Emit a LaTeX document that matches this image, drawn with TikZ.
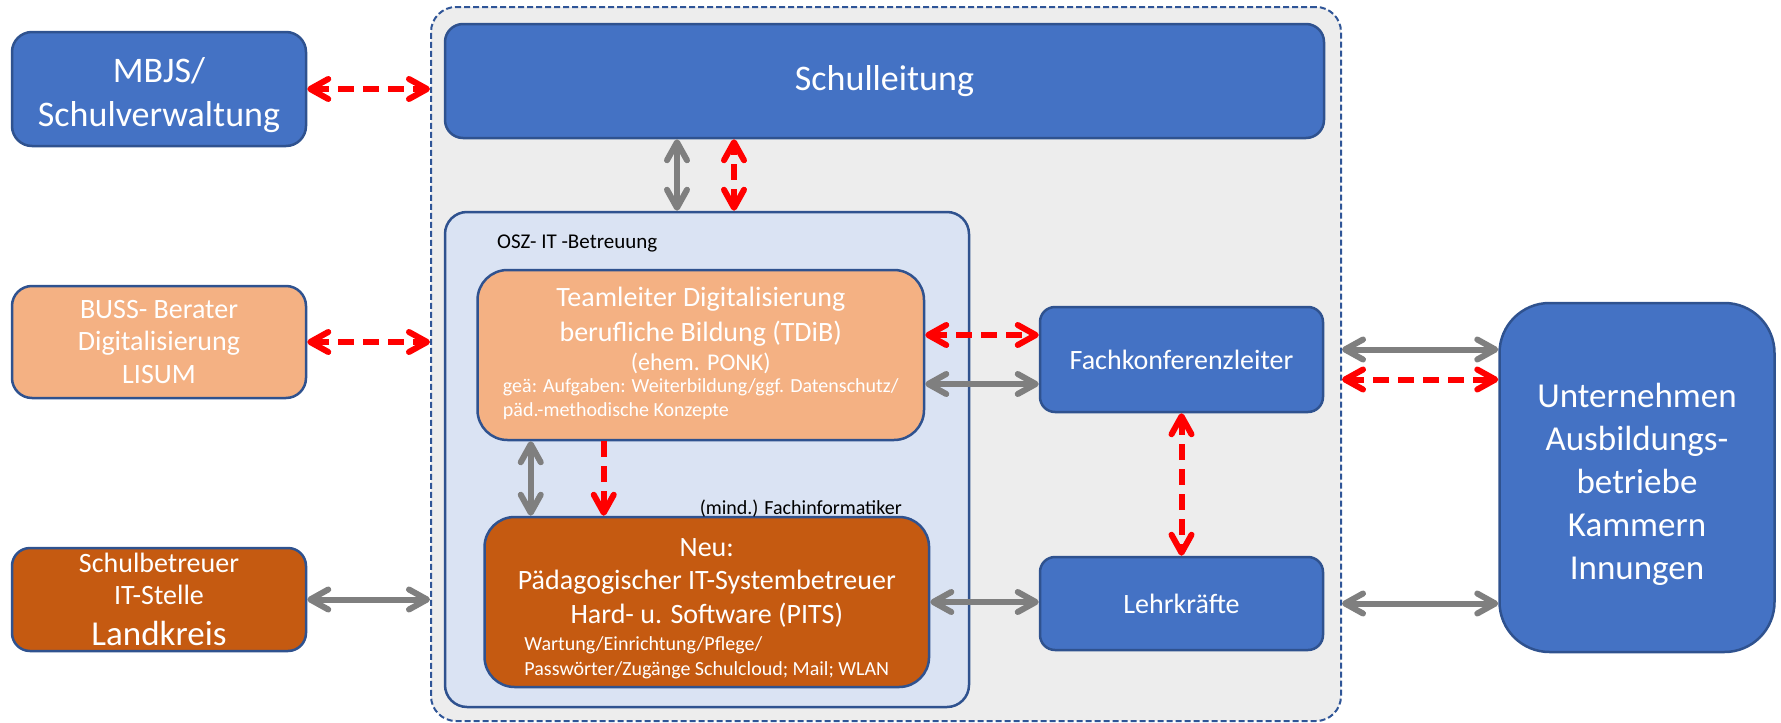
\documentclass[tikz,border=0pt]{standalone}
\usepackage{fontspec}
\setmainfont{Carlito}
\usetikzlibrary{arrows.meta, positioning, calc}
\definecolor{officeblue}{HTML}{4472C4}
\definecolor{boxline}{HTML}{2F528F}
\definecolor{peach}{HTML}{F4B183}
\definecolor{rust}{HTML}{C55A11}
\definecolor{paleblue}{HTML}{DAE3F3}
\definecolor{schoolgrey}{HTML}{EDEDED}
\definecolor{schoolline}{HTML}{2F5597}
\definecolor{linkgrey}{HTML}{7F7F7F}
\definecolor{linkred}{HTML}{FF0000}

\newcommand{\boxfont}[2]{\fontsize{#1}{#2}\selectfont}

\begin{document}
\begin{tikzpicture}[
    x=1pt, y=-1pt,
    >={Straight Barb[round, length=18pt, width=20pt]},
    box/.style={rectangle, draw=boxline, fill=#1, line width=2.5pt, text=white,
                align=center, inner sep=0pt, rounded corners=20pt},
    box/.default=officeblue,
    link/.style={draw=#1, line width=6pt, <->},
    link/.default=linkgrey,
    dashlink/.style={link=linkred, dash pattern=on 16pt off 9pt}
]
\useasboundingbox (0,0) rectangle (1781,723);

% school frame
\node[rectangle, draw=schoolline, fill=schoolgrey, line width=2pt, dash pattern=on 6pt off 3pt,
      rounded corners=25pt, minimum width=910pt, minimum height=714pt] at (886,364) (school) {};

% partners outside the school
\node[box, minimum width=294pt, minimum height=114pt, font=\boxfont{36}{44}] at (159,89) (mbjs) {\rule{0pt}{37pt}MBJS/\\Schulverwaltung};
\node[box=peach, minimum width=294pt, minimum height=112pt, font=\boxfont{28}{32.5}] at (159,342) (buss) {BUSS- Berater\\Digitalisierung\\LISUM};
\node[box=rust, minimum width=294pt, minimum height=103pt, rounded corners=18pt, font=\boxfont{28}{32}] at (159,599.5) (kreis) {Schulbetreuer\\IT-Stelle\\[9pt]{\boxfont{35}{40}Landkreis}};
\node[box, minimum width=275pt, minimum height=349pt, rounded corners=50pt, font=\boxfont{35}{43}] at (1637,477.5) (firms) {\rule{0pt}{38pt}Unternehmen\\Ausbildungs-\\betriebe\\Kammern\\Innungen};

% inside the school
\node[box, minimum width=879pt, minimum height=114pt, rounded corners=18pt, font=\boxfont{36}{44}] at (884.5,81) (lead) {Schulleitung};
\node[box=paleblue, minimum width=524pt, minimum height=495pt, rounded corners=22pt] at (707,459.5) (osz) {};
\node[anchor=west, font=\boxfont{21}{25}, inner sep=0pt] at (497,243) (oszlabel) {OSZ- IT -Betreuung};

\node[box=peach, minimum width=446.5pt, minimum height=170pt, rounded corners=30pt, font=\boxfont{28}{35}] at (700.75,355) (tdib)
    {Teamleiter Digitalisierung\\berufliche Bildung (TDiB)\\[-6pt]{\boxfont{24}{28}(ehem. PONK)}\\[-13pt]%
     {\boxfont{20}{24}\begin{tabular}[t]{@{}l@{}}geä: Aufgaben: Weiterbildung/ggf. Datenschutz/\\päd.-methodische Konzepte\end{tabular}}};
\node[box=rust, minimum width=444.5pt, minimum height=170pt, rounded corners=30pt, font=\boxfont{28}{33.5}] at (706.8,602) (pits)
    {\rule{0pt}{35pt}Neu:\\Pädagogischer IT-Systembetreuer\\Hard- u. Software (PITS)\\[-6pt]%
     {\boxfont{20}{25}\begin{tabular}[t]{@{}l@{}}Wartung/Einrichtung/Pflege/\\Passwörter/Zugänge Schulcloud; Mail; WLAN\end{tabular}}};
\node[anchor=base east, font=\boxfont{20}{24}, inner sep=0pt] at (902,514) (pitsnote) {(mind.) Fachinformatiker};

\node[box, minimum width=283pt, minimum height=105pt, rounded corners=15pt, font=\boxfont{28}{34}] at (1181.5,359.5) (fk) {Fachkonferenzleiter};
\node[box, minimum width=283pt, minimum height=93pt, rounded corners=15pt, font=\boxfont{28}{34}] at (1181.5,603.5) (staff) {Lehrkräfte};

% links across the school frame
\draw[dashlink] (mbjs.east) -- (mbjs.east -| school.west);
\draw[dashlink] (buss.east) -- (buss.east -| school.west);
\draw[link] (kreis.east) -- (kreis.east -| school.west);
\draw[link] ([yshift=10pt]fk.east -| school.east) -- ([yshift=10pt]fk.east -| firms.west);
\draw[dashlink] ([yshift=-20pt]fk.east -| school.east) -- ([yshift=-20pt]fk.east -| firms.west);
\draw[link] (staff.east -| school.east) -- (staff.east -| firms.west);

% links inside the school
\draw[link] ([xshift=-30pt]osz.north) -- ([xshift=-30pt]osz.north |- lead.south);
\draw[dashlink] ([xshift=27pt]osz.north) -- ([xshift=27pt]osz.north |- lead.south);
\draw[dashlink] ([yshift=20pt]tdib.east) -- ([yshift=20pt]tdib.east -| fk.west);
\draw[link] ([yshift=-29pt]tdib.east) -- ([yshift=-29pt]tdib.east -| fk.west);
\draw[dashlink] (fk.south) -- (staff.north);
\draw[link] (pits.east) -- (pits.east -| staff.west);
\draw[link] ([xshift=-170pt]tdib.south) -- ([xshift=-170pt]tdib.south |- pits.north);
\draw[dashlink, ->] ([xshift=-97pt]tdib.south) -- ([xshift=-97pt]tdib.south |- pits.north);

\end{tikzpicture}
\end{document}
